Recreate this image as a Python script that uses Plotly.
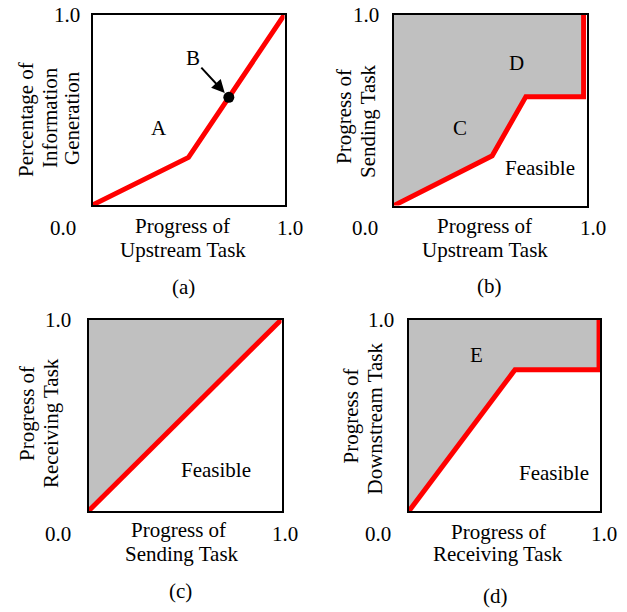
import plotly.graph_objects as go

W, H = 627, 612

# ---------------- data ----------------
# (a) information generation curve
a_x = [0.0, 0.50, 1.0]
a_y = [0.0, 0.25, 1.0]
a_pt_x = [0.71]
a_pt_y = [0.565]

# (b) sending task constraint
b_x = [0.0, 0.51, 0.685, 0.985, 0.985]
b_y = [0.0, 0.26, 0.57, 0.57, 1.0]

# (c) receiving task constraint
c_x = [0.0, 1.0]
c_y = [0.0, 1.0]

# (d) downstream task constraint
d_x = [0.0, 0.555, 0.995, 0.995]
d_y = [0.0, 0.74, 0.74, 1.0]

tick_labels = ["0.0", "1.0"]

RED = "#ff0000"
GRAY = "#c0c0c0"
FONT = "Liberation Serif"
FS = 21

# panel boxes in pixels: left, top, right, bottom
boxes = {
    "a": (92.5, 14.5, 284.5, 205.0),
    "b": (394.0, 14.5, 586.5, 205.5),
    "c": (88.5, 319.5, 281.5, 511.0),
    "d": (409.0, 320.0, 600.0, 511.0),
}
order = ["a", "b", "c", "d"]

fig = go.Figure()

layout = dict(
    width=W, height=H,
    margin=dict(l=0, r=0, t=0, b=0),
    paper_bgcolor="white", plot_bgcolor="white",
    showlegend=False,
    font=dict(family=FONT, size=FS, color="black"),
)

for i, k in enumerate(order):
    l, t, r, b = boxes[k]
    sfx = "" if i == 0 else str(i + 1)
    ax_common = dict(range=[0, 1], showgrid=False, zeroline=False,
                     showticklabels=False, ticks="", showline=True,
                     linecolor="black", linewidth=2, mirror=True,
                     fixedrange=True)
    layout["xaxis" + sfx] = dict(domain=[l / W, r / W], anchor="y" + sfx, **ax_common)
    layout["yaxis" + sfx] = dict(domain=[1 - b / H, 1 - t / H], anchor="x" + sfx, **ax_common)

fig.update_layout(**layout)


def add_panel(idx, xs, ys, fill):
    sfx = "" if idx == 0 else str(idx + 1)
    xa, ya = "x" + sfx, "y" + sfx
    if fill:
        fig.add_trace(go.Scatter(x=xs + [0.0], y=ys + [1.0], mode="lines",
                                 fill="toself", fillcolor=GRAY,
                                 line=dict(width=0, color=GRAY),
                                 xaxis=xa, yaxis=ya, hoverinfo="skip"))
    fig.add_trace(go.Scatter(x=xs, y=ys, mode="lines",
                             line=dict(color=RED, width=5),
                             xaxis=xa, yaxis=ya))


add_panel(0, a_x, a_y, False)
add_panel(1, b_x, b_y, True)
add_panel(2, c_x, c_y, True)
add_panel(3, d_x, d_y, True)

# point B
fig.add_trace(go.Scatter(x=a_pt_x, y=a_pt_y, mode="markers",
                         marker=dict(color="black", size=11),
                         xaxis="x", yaxis="y"))

ann = []


def txt(px, py, s, angle=0):
    ann.append(dict(x=px / W, y=1 - py / H, xref="paper", yref="paper",
                    text=s, showarrow=False, xanchor="center", yanchor="middle",
                    textangle=angle, font=dict(family=FONT, size=FS, color="black")))


# ---- panel (a)
txt(63, 228, tick_labels[0]); txt(290, 228, tick_labels[1]); txt(67, 15, tick_labels[1])
txt(182.5, 226, "Progress of"); txt(183, 250, "Upstream Task")
txt(26, 120, "Percentage of", -90); txt(50, 118, "Information", -90); txt(72, 118, "Generation", -90)
txt(183, 287, "(a)")
txt(159, 128, "A")
ann.append(dict(x=a_pt_x[0], y=a_pt_y[0], xref="x", yref="y", text="B",
                showarrow=True, ax=-36, ay=-39, arrowhead=2, arrowsize=1.3,
                arrowwidth=2, arrowcolor="black", standoff=6,
                font=dict(family=FONT, size=FS, color="black")))

# ---- panel (b)
txt(365, 228, tick_labels[0]); txt(593, 228, tick_labels[1]); txt(365.5, 15, tick_labels[1])
txt(484.5, 226, "Progress of"); txt(485, 250, "Upstream Task")
txt(344, 117, "Progress of", -90); txt(368, 121, "Sending Task", -90)
txt(489, 286, "(b)")
txt(460, 128, "C"); txt(516, 63, "D"); txt(540, 168, "Feasible")

# ---- panel (c)
txt(57.5, 533.5, tick_labels[0]); txt(285, 533.5, tick_labels[1]); txt(57.5, 320, tick_labels[1])
txt(178, 530, "Progress of"); txt(182, 554, "Sending Task")
txt(27, 414, "Progress of", -90); txt(51, 423, "Receiving Task", -90)
txt(180, 591, "(c)")
txt(216, 470, "Feasible")

# ---- panel (d)
txt(378, 534, tick_labels[0]); txt(604, 534, tick_labels[1]); txt(381, 320, tick_labels[1])
txt(498, 532, "Progress of"); txt(498, 554, "Receiving Task")
txt(350.5, 416, "Progress of", -90); txt(374.5, 419, "Downstream Task", -90)
txt(496, 596, "(d)")
txt(476, 355, "E"); txt(554, 473, "Feasible")

fig.update_layout(annotations=ann)

fig.write_html("out.html",
               config={"displayModeBar": False},
               post_script="document.body.style.margin='0';document.body.style.overflow='hidden';")
